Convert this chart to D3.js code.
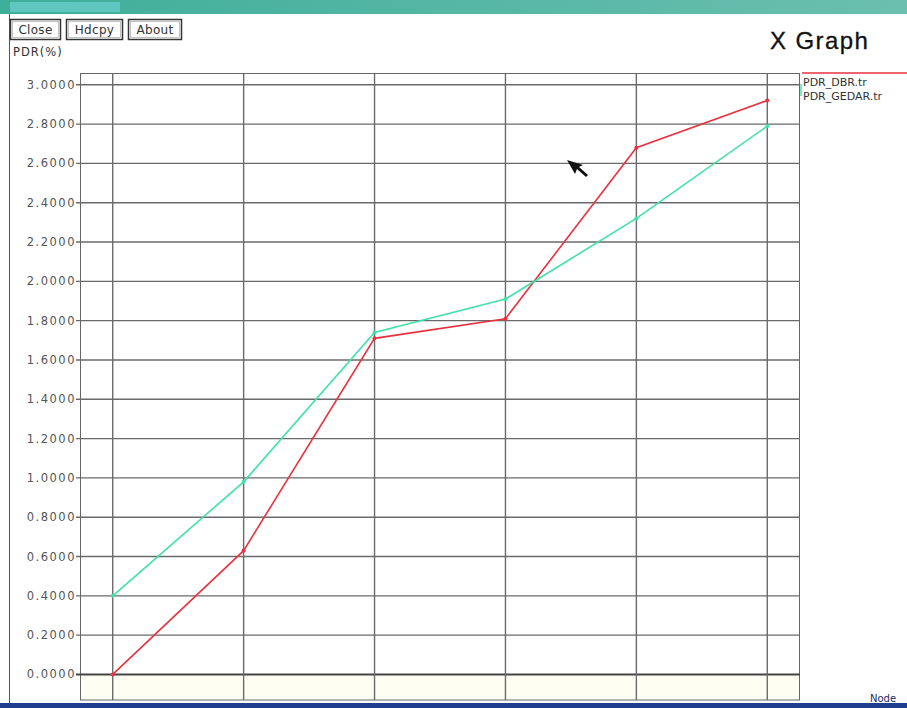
<!DOCTYPE html>
<html>
<head>
<meta charset="utf-8">
<script src="https://cdn.jsdelivr.net/npm/d3@7"></script>
<style>
  body { margin: 0; background: #fff; }
  svg { display: block; font-family: "DejaVu Sans", sans-serif; }
</style>
</head>
<body>
<div id="plot"></div>
<script>
//Data
const nodes = [10, 20, 30, 40, 50, 60];
const pdrDBR = [0.00, 0.63, 1.71, 1.81, 2.68, 2.92];
const pdrGEDAR = [0.40, 0.98, 1.74, 1.91, 2.32, 2.79];
const yTicks = [0, 0.2, 0.4, 0.6, 0.8, 1.0, 1.2, 1.4, 1.6, 1.8, 2.0, 2.2, 2.4, 2.6, 2.8, 3.0];
const seriesNames = ['PDR_DBR.tr', 'PDR_GEDAR.tr'];
const seriesColors = ['#e8323f', '#3fe3a6'];
const buttons = ['Close', 'Hdcpy', 'About'];

const w = 907, h = 708;
const svg = d3.select('#plot').append('svg').attr('width', w).attr('height', h);

//window chrome
const grad = svg.append('defs').append('linearGradient').attr('id', 'tb');
grad.append('stop').attr('offset', '0%').attr('stop-color', '#3fae9a');
grad.append('stop').attr('offset', '100%').attr('stop-color', '#6bbfae');
svg.append('rect').attr('x', 0).attr('y', 0).attr('width', w).attr('height', 14).attr('fill', 'url(#tb)');
svg.append('rect').attr('x', 10).attr('y', 2).attr('width', 110).attr('height', 10).attr('fill', '#5fc6c0');
svg.append('line').attr('x1', 9.5).attr('x2', 9.5).attr('y1', 14).attr('y2', 703)
  .attr('stroke', '#555').attr('stroke-width', 1);

//buttons
const btnWidths = [50, 56, 53];
let bx = 10;
buttons.forEach((b, i) => {
  const tw = btnWidths[i];
  svg.append('rect').attr('x', bx + 0.5).attr('y', 19.5).attr('width', tw).attr('height', 20)
    .attr('fill', '#fff').attr('stroke', '#333').attr('stroke-width', 1.5);
  svg.append('rect').attr('x', bx + 2.5).attr('y', 21.5).attr('width', tw - 4).attr('height', 16)
    .attr('fill', 'none').attr('stroke', '#999').attr('stroke-width', 0.6);
  svg.append('text').attr('x', bx + tw / 2 + 0.5).attr('y', 34).attr('text-anchor', 'middle')
    .style('font-size', '12px').style('letter-spacing', '0.3px').attr('fill', '#333').text(b);
  bx += tw + 6;
});

svg.append('text').attr('x', 13).attr('y', 56).style('font-size', '11.5px')
  .style('letter-spacing', '1px').attr('fill', '#333').text('PDR(%)');
svg.append('text').attr('x', 770).attr('y', 49).style('font-size', '24px')
  .style('font-family', '"Liberation Sans", Arial, sans-serif').style('letter-spacing', '1.4px')
  .attr('fill', '#111').attr('stroke', '#111').attr('stroke-width', 0.3).text('X Graph');

//scales
const x = d3.scaleLinear().domain([7.5, 62.5]).range([80, 800]);
const y = d3.scaleLinear().domain([-0.13, 3.06]).range([700, 73]);

//plot frame
svg.append('rect').attr('x', 80).attr('y', y(0)).attr('width', 720).attr('height', 700 - y(0))
  .attr('fill', '#fffef3');
svg.append('rect').attr('x', 80.5).attr('y', 73.5).attr('width', 719).attr('height', 626.5)
  .attr('fill', 'none').attr('stroke', '#666').attr('stroke-width', 1);

//grid
svg.append('g').selectAll('line').data(yTicks).join('line')
  .attr('x1', 76).attr('x2', 800)
  .attr('y1', d => y(d)).attr('y2', d => y(d))
  .attr('stroke', d => d === 0 ? '#444' : '#6a6a6a').attr('stroke-width', d => d === 0 ? 2 : 1.4);
svg.append('g').selectAll('line').data(nodes).join('line')
  .attr('x1', d => x(d)).attr('x2', d => x(d))
  .attr('y1', 73).attr('y2', 700)
  .attr('stroke', '#6a6a6a').attr('stroke-width', 1.4);

//y axis labels
svg.append('g').selectAll('text').data(yTicks).join('text')
  .attr('x', 76).attr('y', d => y(d) + 4).attr('text-anchor', 'end')
  .style('font-size', '11.5px').style('letter-spacing', '1.5px').attr('fill', '#555')
  .text(d => d3.format('.4f')(d));

//series
const series = [pdrDBR, pdrGEDAR];
const line = d3.line().x((d, i) => x(nodes[i])).y(d => y(d));
series.forEach((s, k) => {
  svg.append('path').datum(s).attr('d', line)
    .attr('fill', 'none').attr('stroke', seriesColors[k]).attr('stroke-width', 1.6);
  svg.append('g').selectAll('circle').data(s).join('circle')
    .attr('cx', (d, i) => x(nodes[i])).attr('cy', d => y(d)).attr('r', 2)
    .attr('fill', seriesColors[k]);
});

//legend
svg.append('line').attr('x1', 802).attr('x2', w).attr('y1', 73).attr('y2', 73)
  .attr('stroke', seriesColors[0]).attr('stroke-width', 1.4);
svg.append('line').attr('x1', 801).attr('x2', 801).attr('y1', 84).attr('y2', 96)
  .attr('stroke', seriesColors[1]).attr('stroke-width', 1.4);
seriesNames.forEach((n, i) => {
  svg.append('text').attr('x', 803).attr('y', 86 + i * 14)
    .style('font-size', '11px').attr('fill', '#333').text(n);
});

//mouse pointer
svg.append('path').attr('d', 'M567,160 L575,174 L577,169 L586,177 L588,175 L579,167 L583,165 Z')
  .attr('fill', '#111');

//bottom bar
svg.append('rect').attr('x', 0).attr('y', 703).attr('width', w).attr('height', 5).attr('fill', '#1d3f8e');
svg.append('text').attr('x', 870).attr('y', 702).style('font-size', '10px').attr('fill', '#1a2a60').text('Node');
</script>
</body>
</html>
